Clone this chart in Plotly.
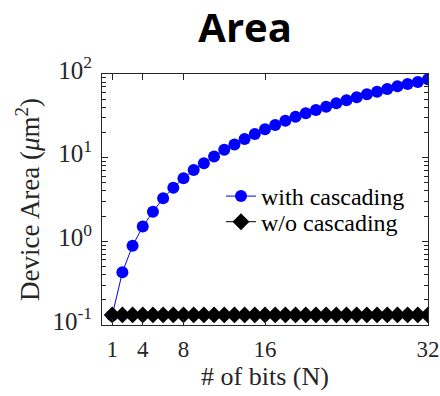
import plotly.graph_objects as go

bits = list(range(1, 33))
with_cascading = [0.13, 0.427, 0.887, 1.50, 2.26, 3.27, 4.37, 5.66, 7.12, 8.57,
                  10.3, 12.4, 14.4, 16.7, 19.2, 21.8, 24.6, 27.7, 30.9, 33.9,
                  37.1, 40.7, 44.6, 48.5, 52.6, 57.1, 61.4, 66.2, 71.3, 75.9,
                  80.2, 86.5]
wo_cascading = [0.132] * 32

x_ticks = [1, 4, 8, 16, 32]
y_ticks = [0.1, 1, 10, 100]
y_ticktext = ["10<sup>-1</sup>", "10<sup>0</sup>", "10<sup>1</sup>", "10<sup>2</sup>"]
y_minor = [m * d for d in [0.1, 1, 10] for m in range(2, 10)]

serif = "Liberation Serif"
axc = "#262626"

fig = go.Figure()
# invisible carrier so the minor-tick overlay axis is drawn
fig.add_trace(go.Scatter(
    x=bits, y=wo_cascading, yaxis="y2", mode="markers", opacity=0,
    showlegend=False, hoverinfo="skip",
))
fig.add_trace(go.Scatter(
    x=bits, y=with_cascading, mode="lines+markers", name="with cascading",
    line=dict(color="#0000FF", width=1),
    marker=dict(symbol="circle", size=12, color="#0000FF"),
    legend="legend",
))
fig.add_trace(go.Scatter(
    x=bits, y=wo_cascading, mode="lines+markers", name="w/o cascading",
    line=dict(color="black", width=1),
    marker=dict(symbol="diamond", size=13, color="black"),
    legend="legend2",
))

axis_common = dict(
    showline=True, linecolor=axc, linewidth=1, mirror="ticks",
    ticks="inside", tickcolor=axc, tickwidth=1, showgrid=False, zeroline=False,
    automargin=False,
)

legend_common = dict(xanchor="left", yanchor="middle", bgcolor="rgba(0,0,0,0)",
                     font=dict(family=serif, size=24, color="black"),
                     itemsizing="trace")

fig.update_layout(
    width=440, height=396,
    margin=dict(l=102, r=12, t=74, b=71),
    paper_bgcolor="white", plot_bgcolor="white",
    title=dict(text="<b>Area</b>", x=0.557, xanchor="center", xref="container",
               y=0.93, yanchor="middle", yref="container",
               font=dict(family="Open Sans", size=40, color="black")),
    showlegend=True,
    legend=dict(x=0.365, y=0.512, **legend_common),
    legend2=dict(x=0.365, y=0.41, **legend_common),
    xaxis=dict(range=[0, 32], tickvals=x_ticks, ticklen=6, ticklabelstandoff=3,
               tickfont=dict(family=serif, size=23, color=axc),
               title=dict(text="# of bits (N)", font=dict(family=serif, size=26, color=axc), standoff=6),
               **axis_common),
    yaxis=dict(type="log", range=[-1, 2], tickmode="array", tickvals=y_ticks, ticktext=y_ticktext, ticklen=6,
               ticklabelstandoff=4, ticklabelshift=-4,
               tickfont=dict(family=serif, size=25, color=axc),
               title=dict(text="Device Area (<i>μ</i>m<sup>2</sup>)", font=dict(family=serif, size=27, color=axc), standoff=4),
               **axis_common),
    yaxis2=dict(type="log", range=[-1, 2], overlaying="y", side="left",
                tickmode="array", tickvals=y_minor, ticks="inside", ticklen=4, tickwidth=1,
                tickcolor=axc, showticklabels=False, showgrid=False, zeroline=False,
                showline=True, linecolor=axc, linewidth=1, mirror="ticks", automargin=False),
)

fig.write_html("out.html")
